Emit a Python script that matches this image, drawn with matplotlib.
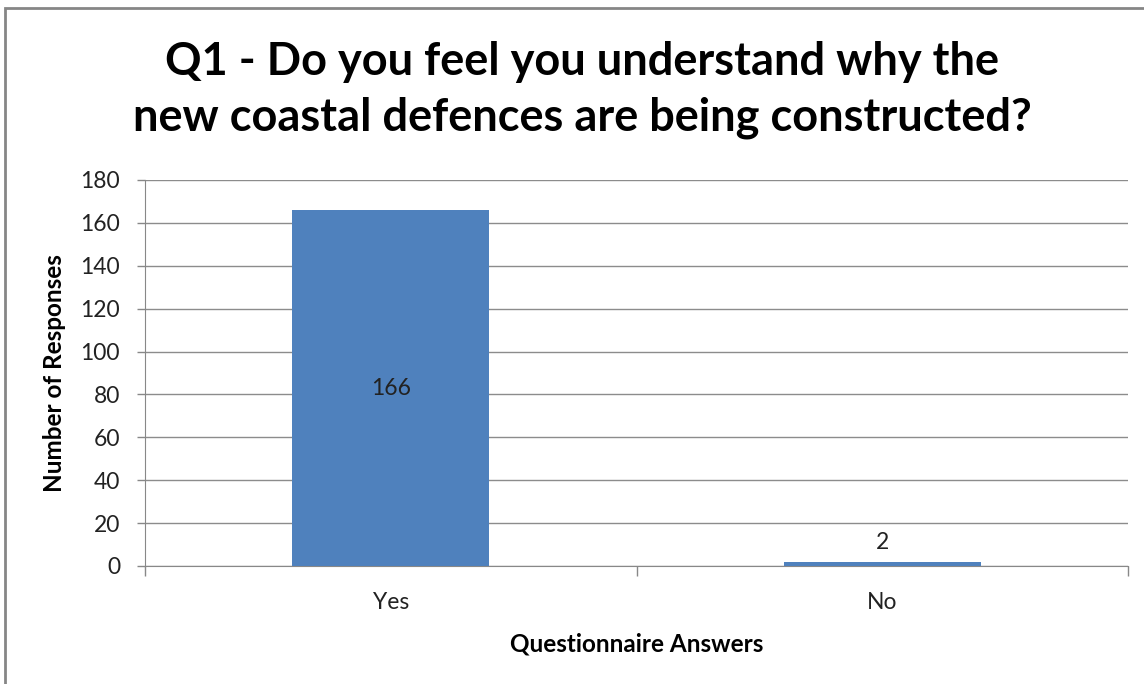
import matplotlib
matplotlib.use("Agg")
import matplotlib.pyplot as plt
from matplotlib.patches import Rectangle

categories = ["Yes", "No"]
values = [166, 2]
yticks = [0, 20, 40, 60, 80, 100, 120, 140, 160, 180]

title = "Q1 - Do you feel you understand why the\nnew coastal defences are being constructed?"
xlabel = "Questionnaire Answers"
ylabel = "Number of Responses"

plt.rcParams['font.family'] = ['Lato', 'DejaVu Sans']

W, H = 1144, 684
fig = plt.figure(figsize=(W / 100, H / 100), dpi=100)
ax = fig.add_axes([145 / W, 1 - 566 / H, (1128 - 145) / W, (566 - 180) / H])

x = list(range(len(categories)))
bars = ax.bar(x, values, width=0.4, color="#4F81BD", zorder=3)
ax.set_xlim(-0.5, len(categories) - 0.5)
ax.set_ylim(0, 180)
ax.set_yticks(yticks)
ax.set_xticks(x)
ax.set_xticklabels(categories, fontsize=16.5, color="#222222")
ax.tick_params(axis='x', length=0, pad=19)
ax.tick_params(axis='y', labelsize=16.5, colors="#222222", length=6, width=1, color="#888888", pad=12)
for lbl in ax.get_yticklabels():
    lbl.set_color("#222222")
# category boundary ticks
ax.set_xticks([-0.5, 0.5, 1.5], minor=True)
ax.tick_params(axis='x', which='minor', length=7, width=1, color="#888888")

ax.grid(axis='y', color="#8c8c8c", linewidth=1, zorder=0)
for s in ['top', 'right']:
    ax.spines[s].set_visible(False)
ax.spines['left'].set_color("#888888")
ax.spines['bottom'].set_color("#888888")

# data labels
ax.text(0, values[0] / 2, str(values[0]), ha='center', va='center', fontsize=16.5, color="#222222", zorder=4)
ax.text(1, values[1] + 4, str(values[1]), ha='center', va='bottom', fontsize=16.5, color="#222222", zorder=4)

ax.set_xlabel(xlabel, fontsize=17.5, fontweight='bold', labelpad=14)
ax.set_ylabel(ylabel, fontsize=17.5, fontweight='bold', labelpad=10)

fig.text(582 / W, 1 - 90 / H, title, ha='center', va='center', fontsize=32.5,
         fontweight='bold', linespacing=1.4, color="#000000")

# outer chart border
fig.patches.append(Rectangle((5 / W, -0.1), 1.2, 1 - 8 / H + 0.1, transform=fig.transFigure,
                             fill=False, edgecolor="#868686", linewidth=2, zorder=10))

fig.savefig("out.png", dpi=100)
